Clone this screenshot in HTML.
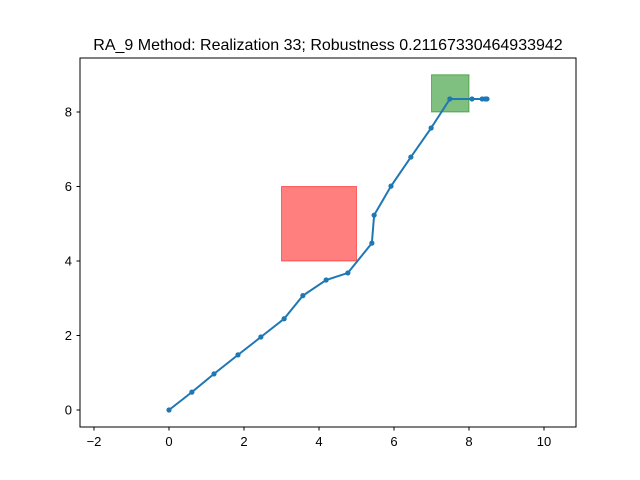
<!DOCTYPE html>
<html><head><meta charset="utf-8"><style>body{margin:0;background:#fff}svg{display:block;font-family:"Liberation Sans","DejaVu Sans",sans-serif}</style></head>
<body>
<svg id="chart" width="640" height="480" xmlns="http://www.w3.org/2000/svg">
<rect width="640" height="480" fill="#fff"/>
<text x="328" y="50" font-size="16" text-anchor="middle">RA_9 Method: Realization 33; Robustness 0.21167330464933942</text>
<g id="marks"></g>
<rect x="80" y="58" width="496" height="369" fill="none" stroke="#000" stroke-width="1"/>
<g id="ticks" font-size="13"></g>
</svg>
<script>
const xs=[0,0.61,1.2,1.84,2.45,3.07,3.57,4.19,4.77,5.41,5.47,5.92,6.45,6.99,7.49,8.08,8.35,8.43,8.48];
const ys=[0,0.48,0.97,1.48,1.96,2.45,3.07,3.49,3.68,4.48,5.23,6.01,6.79,7.57,8.35,8.35,8.35,8.35,8.35];
const xTicks=[-2,0,2,4,6,8,10];
const yTicks=[0,2,4,6,8];
const obstacle=[3,4,5,6];
const goal=[7,8,8,9];
const X=v=>169+v*37.5, Y=v=>410-v*37.25;
const NS="http://www.w3.org/2000/svg";
const m=document.getElementById('marks'), t=document.getElementById('ticks');
function mk(tag,attrs,parent){const e=document.createElementNS(NS,tag);for(const k in attrs)e.setAttribute(k,attrs[k]);parent.appendChild(e);return e;}
let r=mk('rect',{x:X(obstacle[0]),y:Y(obstacle[3]),width:X(obstacle[2])-X(obstacle[0]),height:Y(obstacle[1])-Y(obstacle[3]),fill:'rgba(255,0,0,0.5)',stroke:'rgba(255,0,0,0.5)'},m);


let g=mk('rect',{x:X(goal[0]),y:Y(goal[3]),width:X(goal[2])-X(goal[0]),height:Y(goal[1])-Y(goal[3]),fill:'rgba(0,128,0,0.5)',stroke:'rgba(0,128,0,0.5)'},m);


let p=mk('polyline',{points:xs.map((x,i)=>X(x)+','+Y(ys[i])).join(' '),fill:'none',stroke:'#1f77b4','stroke-width':2},m);


xs.forEach((x,i)=>{const c=mk('circle',{cx:X(x),cy:Y(ys[i]),r:2.6,fill:'#1f77b4'},m);

});
xTicks.forEach(v=>{mk('line',{x1:X(v),x2:X(v),y1:427,y2:430.5,stroke:'#000'},t);
const s=mk('text',{x:X(v),y:446,'text-anchor':'middle'},t);s.textContent=v<0?'\u2212'+(-v):v;

});
yTicks.forEach(v=>{mk('line',{x1:76.5,x2:80,y1:Y(v),y2:Y(v),stroke:'#000'},t);
const s=mk('text',{x:72,y:Y(v)+4.5,'text-anchor':'end'},t);s.textContent=v;

});
</script>
</body></html>
